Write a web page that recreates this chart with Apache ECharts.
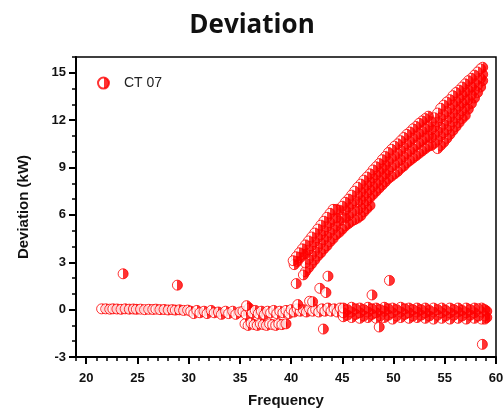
<!DOCTYPE html>
<html>
<head>
	<title>Deviation</title>
	<script src="https://cdn.jsdelivr.net/npm/echarts/dist/echarts.min.js"></script>
	<style>
		html, body { margin: 0; padding: 0; background: #fff; }
	</style>
</head>
<body>
	<div id="chart" style="width: 504px; height: 410px;"></div>
	<script>
		// tick labels
		var xMajor = [20, 25, 30, 35, 40, 45, 50, 55, 60];
		var yMajor = [-3, 0, 3, 6, 9, 12, 15];

		// flat part, 21.5 .. 35
		var baseLow = [
			[21.5,0.05],[21.9,0.05],[22.3,0.03],[22.6,0.05],[23.0,0.04],[23.4,0.02],[23.8,0.05],[24.2,0.03],
			[24.6,0.04],[24.9,0.02],[25.3,0.03],[25.7,0.0],[26.1,0.02],[26.5,0.01],[26.8,0.03],[27.2,0.0],
			[27.6,0.01],[28.0,-0.02],[28.4,0.0],[28.7,-0.03],[29.1,-0.01],[29.5,-0.05],[29.9,-0.03],
			[30.2,-0.1],[30.5,-0.25],[30.8,-0.05],[31.1,-0.2],[31.5,-0.1],[31.8,-0.25],[32.2,-0.05],[32.5,-0.2],
			[32.9,-0.15],[33.2,-0.3],[33.6,-0.1],[33.9,-0.25],[34.3,-0.1],[34.6,-0.3],[35.0,-0.15]
		];

		// flat part, 35 .. 45
		var baseMid = [
			[35.3,-0.1],[35.6,-0.3],[35.9,0.1],[36.2,-0.2],[36.5,-0.05],[36.8,-0.25],[37.1,-0.1],[37.4,-0.3],
			[37.7,-0.1],[38.0,-0.2],[38.3,-0.05],[38.6,-0.25],[38.9,-0.1],[39.2,-0.2],[39.5,-0.05],[39.8,-0.25],
			[40.0,0.0],[40.3,-0.15],[40.6,0.05],[40.9,-0.1],[41.2,0.0],[41.5,-0.15],[41.8,0.05],[42.1,-0.1],
			[42.4,0.0],[42.7,-0.15],[43.0,0.05],[43.3,-0.1],[43.6,0.1],[43.9,-0.1],[44.2,0.05],[44.5,-0.15],[44.8,0.1]
		];

		// second row below the flat part, 35.5 .. 39.5
		var lowerRow = [
			[35.5,-0.9],[35.8,-1.0],[36.1,-0.85],[36.4,-0.95],[36.7,-1.0],[37.0,-0.9],[37.3,-0.95],[37.6,-1.0],
			[37.9,-0.9],[38.2,-0.95],[38.5,-1.0],[38.8,-0.9],[39.1,-0.95],[39.5,-0.9]
		];

		// flat part, 45 .. 59 (thicker)
		var baseHigh = [
			[45.1,0.1],[45.1,-0.2],[45.1,-0.45],[45.5,0.0],[45.5,-0.35],[45.9,0.15],[45.9,-0.15],[45.9,-0.5],
			[46.3,0.05],[46.3,-0.3],[46.7,0.1],[46.7,-0.2],[46.7,-0.55],[47.1,0.0],[47.1,-0.4],
			[47.5,0.15],[47.5,-0.15],[47.5,-0.5],[47.9,0.05],[47.9,-0.3],[48.3,0.1],[48.3,-0.2],[48.3,-0.55],
			[48.7,0.0],[48.7,-0.4],[49.1,0.15],[49.1,-0.1],[49.1,-0.5],[49.5,0.05],[49.5,-0.35],
			[49.9,0.1],[49.9,-0.2],[49.9,-0.6],[50.3,0.0],[50.3,-0.4],[50.7,0.15],[50.7,-0.15],[50.7,-0.5],
			[51.1,0.05],[51.1,-0.3],[51.5,0.1],[51.5,-0.2],[51.5,-0.55],[51.9,0.0],[51.9,-0.4],
			[52.3,0.1],[52.3,-0.15],[52.3,-0.5],[52.7,0.0],[52.7,-0.35],[53.1,0.1],[53.1,-0.2],[53.1,-0.55],
			[53.5,-0.05],[53.5,-0.4],[53.9,0.1],[53.9,-0.15],[53.9,-0.6],[54.3,0.0],[54.3,-0.35],
			[54.7,0.1],[54.7,-0.2],[54.7,-0.55],[55.1,-0.05],[55.1,-0.4],[55.5,0.1],[55.5,-0.2],[55.5,-0.6],
			[55.9,0.0],[55.9,-0.35],[56.3,0.1],[56.3,-0.15],[56.3,-0.55],[56.7,-0.05],[56.7,-0.4],
			[57.1,0.1],[57.1,-0.2],[57.1,-0.6],[57.5,0.0],[57.5,-0.35],[57.9,0.1],[57.9,-0.2],[57.9,-0.55],
			[58.3,0.05],[58.3,-0.4],[58.6,0.1],[58.6,-0.15],[58.6,-0.6],[58.9,0.0],[58.9,-0.4],[58.9,-0.6],
			[59.1,-0.1],[59.1,-0.5]
		];

		// rising band, 40 .. 59, one line per column
		var rising = [
			[40.2,3.1],[40.3,2.85],
			[40.5,3.35],[40.6,3.05],
			[40.8,3.6],[40.9,3.3],
			[41.1,3.85],[41.2,3.5],[41.2,2.2],
			[41.4,4.1],[41.4,3.55],[41.4,2.95],[41.4,2.4],
			[41.7,4.35],[41.7,3.8],[41.7,3.2],[41.7,2.65],
			[42.0,4.6],[42.0,4.05],[42.0,3.45],[42.0,2.9],
			[42.3,4.85],[42.3,4.3],[42.3,3.7],[42.3,3.15],
			[42.6,5.1],[42.6,4.55],[42.6,3.95],[42.6,3.4],
			[42.9,5.35],[42.9,4.75],[42.9,4.2],[42.9,3.6],
			[43.2,5.6],[43.2,5.0],[43.2,4.45],[43.2,3.85],
			[43.5,5.85],[43.5,5.25],[43.5,4.65],[43.5,4.05],
			[43.8,6.1],[43.8,5.5],[43.8,4.9],[43.8,4.3],
			[44.1,6.35],[44.1,5.75],[44.1,5.1],[44.1,4.5],
			[44.4,6.35],[44.4,5.8],[44.4,5.3],[44.4,4.75],
			[44.7,6.3],[44.7,5.6],[44.7,4.9],
			[45.0,6.55],[45.0,5.85],[45.0,5.1],
			[45.3,6.8],[45.3,6.3],[45.3,5.8],[45.3,5.3],
			[45.6,7.0],[45.6,6.5],[45.6,5.95],[45.6,5.45],
			[45.9,7.25],[45.9,6.7],[45.9,6.15],[45.9,5.6],
			[46.2,7.5],[46.2,6.9],[46.2,6.3],[46.2,5.7],
			[46.5,7.75],[46.5,7.25],[46.5,6.8],[46.5,6.3],[46.5,5.8],
			[46.8,7.95],[46.8,7.45],[46.8,6.95],[46.8,6.45],[46.8,5.95],
			[47.1,8.2],[47.1,7.7],[47.1,7.2],[47.1,6.7],[47.1,6.2],
			[47.4,8.4],[47.4,7.9],[47.4,7.4],[47.4,6.9],[47.4,6.4],
			[47.7,8.6],[47.7,8.1],[47.7,7.6],[47.7,7.1],[47.7,6.6],
			[48.0,8.85],[48.0,8.35],[48.0,7.8],[48.0,7.3],
			[48.3,9.05],[48.3,8.55],[48.3,8.0],[48.3,7.5],
			[48.6,9.25],[48.6,8.75],[48.6,8.2],[48.6,7.7],
			[48.9,9.5],[48.9,8.95],[48.9,8.45],[48.9,7.9],
			[49.2,9.7],[49.2,9.15],[49.2,8.6],[49.2,8.1],
			[49.5,9.95],[49.5,9.4],[49.5,8.85],[49.5,8.3],
			[49.8,10.15],[49.8,9.6],[49.8,9.05],[49.8,8.45],
			[50.1,10.35],[50.1,9.75],[50.1,9.2],[50.1,8.6],
			[50.4,10.5],[50.4,9.9],[50.4,9.35],[50.4,8.75],
			[50.7,10.7],[50.7,10.1],[50.7,9.5],[50.7,8.95],
			[51.0,10.9],[51.0,10.3],[51.0,9.7],[51.0,9.1],
			[51.3,11.1],[51.3,10.5],[51.3,9.9],[51.3,9.3],
			[51.6,11.25],[51.6,10.65],[51.6,10.05],[51.6,9.45],
			[51.9,11.45],[51.9,10.85],[51.9,10.2],[51.9,9.6],
			[52.2,11.6],[52.2,11.0],[52.2,10.4],[52.2,9.75],
			[52.5,11.8],[52.5,11.15],[52.5,10.55],[52.5,9.9],
			[52.8,11.95],[52.8,11.3],[52.8,10.7],[52.8,10.05],
			[53.1,12.1],[53.1,11.45],[53.1,10.85],[53.1,10.2],
			[53.4,12.25],[53.4,11.6],[53.4,11.0],[53.4,10.35],
			[53.7,11.9],[53.7,11.4],[53.7,10.9],[53.7,10.4],
			[54.0,12.15],[54.0,11.6],[54.0,11.1],[54.0,10.55],
			[54.3,12.45],[54.3,11.9],[54.3,11.3],[54.3,10.75],[54.3,10.2],
			[54.6,12.75],[54.6,12.15],[54.6,11.55],[54.6,11.0],[54.6,10.4],
			[54.9,12.95],[54.9,12.35],[54.9,11.75],[54.9,11.2],[54.9,10.6],
			[55.2,13.15],[55.2,12.55],[55.2,12.0],[55.2,11.4],[55.2,10.85],
			[55.5,13.3],[55.5,12.75],[55.5,12.2],[55.5,11.65],[55.5,11.1],
			[55.8,13.55],[55.8,13.0],[55.8,12.45],[55.8,11.9],[55.8,11.35],
			[56.1,13.75],[56.1,13.2],[56.1,12.7],[56.1,12.15],[56.1,11.6],
			[56.4,13.9],[56.4,13.4],[56.4,12.9],[56.4,12.35],[56.4,11.85],
			[56.7,14.1],[56.7,13.6],[56.7,13.1],[56.7,12.6],[56.7,12.1],
			[57.0,14.3],[57.0,13.8],[57.0,13.3],[57.0,12.8],[57.0,12.3],
			[57.3,14.5],[57.3,13.9],[57.3,13.3],[57.3,12.7],
			[57.6,14.65],[57.6,14.1],[57.6,13.6],[57.6,13.05],
			[57.9,14.85],[57.9,14.35],[57.9,13.9],[57.9,13.4],
			[58.2,15.05],[58.2,14.6],[58.2,14.2],[58.2,13.75],
			[58.5,15.25],[58.5,14.65],[58.5,14.1],
			[58.7,15.35],[58.7,14.9],[58.7,14.5]
		];

		// stray points
		var strays = [
			[23.6,2.27],[28.9,1.55],[35.65,0.25],[40.5,1.65],[40.65,0.32],[41.8,0.53],[42.1,0.5],
			[42.8,1.35],[43.4,1.08],[43.6,2.12],[47.9,0.93],[49.6,1.85],[43.15,-1.23],[48.6,-1.1],[58.67,-2.2]
		];

		// high-frequency parts are drawn right to left, so the red halves overlap
		var points = [].concat(baseLow, baseMid, lowerRow,
			baseHigh.slice().reverse(), rising.slice().reverse(), strays);

		var red = '#ff0000';
		var halfFill = new echarts.graphic.LinearGradient(0, 0, 1, 0, [
			{ offset: 0, color: '#ffffff' },
			{ offset: 0.5, color: '#ffffff' },
			{ offset: 0.5, color: red },
			{ offset: 1, color: red }
		]);

		var font = 'Liberation Sans, Arial, sans-serif';
		var chart = echarts.init(document.getElementById('chart'));
		chart.setOption({
			animation: false,
			backgroundColor: '#fff',
			title: {
				text: 'Deviation',
				left: 'center',
				top: -3,
				textStyle: { fontSize: 26, fontWeight: 'bold', color: '#111', fontFamily: 'Open Sans, sans-serif' }
			},
			legend: {
				data: ['CT 07'],
				left: 92,
				top: 66,
				icon: 'circle',
				itemWidth: 11,
				itemHeight: 11,
				textStyle: { fontSize: 14, color: '#222', fontFamily: font, padding: [0, 0, 0, 10] }
			},
			grid: {
				left: 76, right: 8, top: 57, bottom: 53,
				outerBoundsMode: 'none',
				show: true, borderColor: '#000', borderWidth: 1.5
			},
			xAxis: [{
				type: 'value', min: 19, max: 60, interval: 1,
				name: 'Frequency', nameLocation: 'middle', nameGap: 31, nameMoveOverlap: false,
				nameTextStyle: { fontSize: 15, fontWeight: 'bold', color: '#111', fontFamily: font },
				axisLine: { onZero: false, lineStyle: { color: '#000', width: 2 } },
				axisTick: { length: 4, lineStyle: { color: '#000', width: 1.5 } },
				axisLabel: {
					margin: 10, fontSize: 13, fontWeight: 'bold', color: '#111', fontFamily: font,
					formatter: function (v) { return v % 5 === 0 ? String(v) : ''; }
				},
				splitLine: { show: false }
			}, {
				type: 'value', min: 19, max: 60, position: 'bottom',
				axisLine: { show: false, onZero: false },
				axisTick: { length: 7, customValues: xMajor, lineStyle: { color: '#000', width: 2 } },
				axisLabel: { show: false },
				splitLine: { show: false }
			}],
			yAxis: [{
				type: 'value', min: -3, max: 16, interval: 1,
				name: 'Deviation (kW)', nameLocation: 'middle', nameGap: 39, nameMoveOverlap: false,
				nameTextStyle: { fontSize: 15, fontWeight: 'bold', color: '#111', fontFamily: font },
				axisLine: { onZero: false, lineStyle: { color: '#000', width: 2 } },
				axisTick: { length: 4, lineStyle: { color: '#000', width: 1.5 } },
				axisLabel: {
					margin: 10, fontSize: 13, fontWeight: 'bold', color: '#111', fontFamily: font,
					formatter: function (v) { return yMajor.indexOf(v) >= 0 ? String(v) : ''; }
				},
				splitLine: { show: false }
			}, {
				type: 'value', min: -3, max: 16, position: 'left',
				axisLine: { show: false, onZero: false },
				axisTick: { length: 7, customValues: yMajor, lineStyle: { color: '#000', width: 2 } },
				axisLabel: { show: false },
				splitLine: { show: false }
			}],
			series: [{
				name: 'CT 07',
				type: 'scatter',
				symbol: 'circle',
				symbolSize: 10,
				itemStyle: { color: halfFill, borderColor: red, borderWidth: 1 },
				data: points
			}]
		});
	</script>
</body>
</html>
